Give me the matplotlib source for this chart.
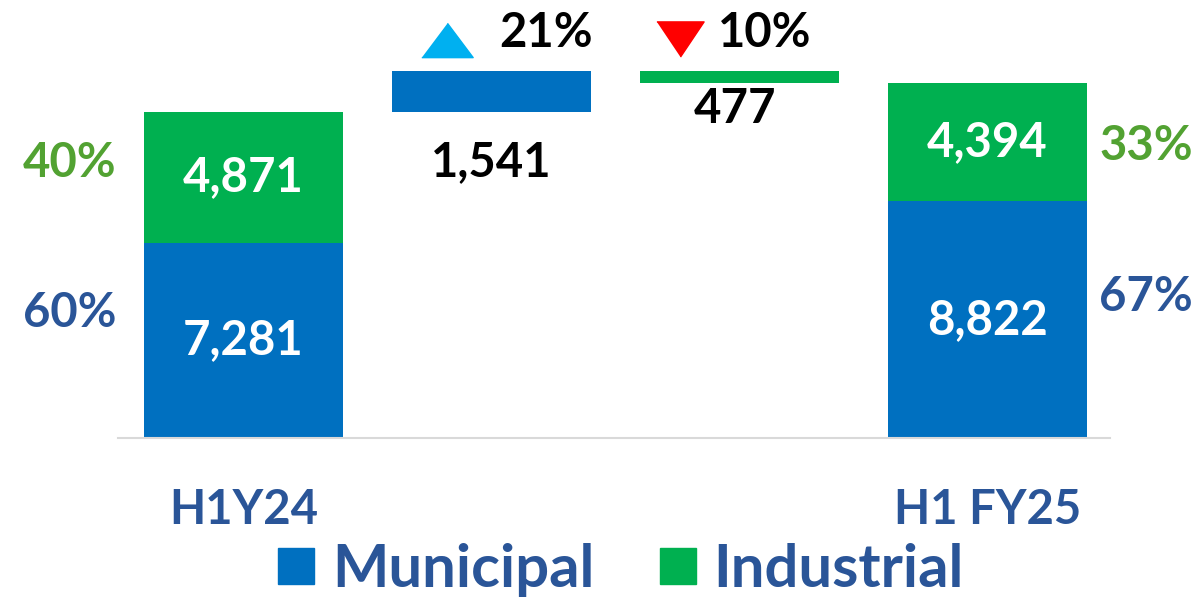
import numpy as np
import matplotlib
matplotlib.use('Agg')
from matplotlib import pyplot as plt
from matplotlib.lines import Line2D

plt.rcParams['font.family'] = ['Lato', 'DejaVu Sans']
plt.rcParams['font.weight'] = 'bold'

# data
periods = ['H1Y24', 'H1 FY25']
municipal = [7281, 8822]
industrial = [4871, 4394]
mun_change = 1541
ind_change = -477
mun_pct = ['60%', '67%']
ind_pct = ['40%', '33%']
mun_growth = '21%'
ind_growth = '10%'

BLUE = '#0070C0'
GREEN = '#00B050'
DBLUE = '#2A5598'
DGREEN = '#52A232'
FS = 34

fig = plt.figure(figsize=(11.99, 6.03), dpi=100)
ax = fig.add_axes([0.0984, 0.2736, 0.8274, 0.7264])

x = np.arange(4)
w = 0.8
tot0 = municipal[0] + industrial[0]

# end bars
for xi, m, i in [(x[0], municipal[0], industrial[0]), (x[3], municipal[1], industrial[1])]:
    ax.bar(xi, m, w, color=BLUE)
    ax.bar(xi, i, w, bottom=m, color=GREEN)
    ax.text(xi, m / 2, f'{m:,}', color='white', fontsize=FS, ha='center', va='center')
    ax.text(xi, m + i / 2, f'{i:,}', color='white', fontsize=FS, ha='center', va='center')

# waterfall steps
ax.bar(x[1], mun_change, w, bottom=tot0, color=BLUE)
top1 = tot0 + mun_change
ax.bar(x[2], ind_change, w, bottom=top1, color=GREEN)

ax.text(x[1], 10300, f'{mun_change:,}', color='black', fontsize=FS, ha='center', va='center')
ax.text(x[2] - 0.02, 12250, f'{abs(ind_change):,}', color='black', fontsize=FS, ha='center', va='center')

# growth markers
up = [(-1, -0.667), (1, -0.667), (0, 0.667)]
down = [(-1, 0.745), (1, 0.745), (0, -0.745)]
ax.plot([0.82], [14850], marker=up, ms=37, color='#00B0F0', ls='none', clip_on=False)
ax.plot([1.76], [14870], marker=down, ms=34, color='#FF0000', ls='none', clip_on=False)
ax.text(1.22, 15080, mun_growth, color='black', fontsize=FS, ha='center', va='center')
ax.text(2.10, 15080, ind_growth, color='black', fontsize=FS, ha='center', va='center')

# share labels
ax.text(-0.70, 10250, ind_pct[0], color=DGREEN, fontsize=FS, ha='center', va='center', clip_on=False)
ax.text(-0.70, 4660, mun_pct[0], color=DBLUE, fontsize=FS, ha='center', va='center', clip_on=False)
ax.text(3.64, 10880, ind_pct[1], color=DGREEN, fontsize=FS, ha='center', va='center', clip_on=False)
ax.text(3.64, 5250, mun_pct[1], color=DBLUE, fontsize=FS, ha='center', va='center', clip_on=False)

ax.set_xlim(-0.506, 3.494)
ax.set_ylim(0, 16325)
ax.set_xticks([x[0], x[3]])
ax.set_xticklabels(periods, fontsize=FS, color=DBLUE)
ax.tick_params(axis='x', length=0, pad=36)
ax.set_yticks([])
for s in ['top', 'right', 'left']:
    ax.spines[s].set_visible(False)
ax.spines['bottom'].set_color('#D9D9D9')
ax.spines['bottom'].set_linewidth(1.5)

handles = [Line2D([], [], marker='s', ls='none', ms=26, color=BLUE),
           Line2D([], [], marker='s', ls='none', ms=26, color=GREEN)]
leg = fig.legend(handles, ['Municipal', 'Industrial'], loc='center', bbox_to_anchor=(0.518, 0.055),
                 ncol=2, frameon=False, fontsize=43, handletextpad=0.3, columnspacing=1.1,
                 handlelength=0.6)
for t in leg.get_texts():
    t.set_color(DBLUE)

fig.savefig('out.png', dpi=100)
